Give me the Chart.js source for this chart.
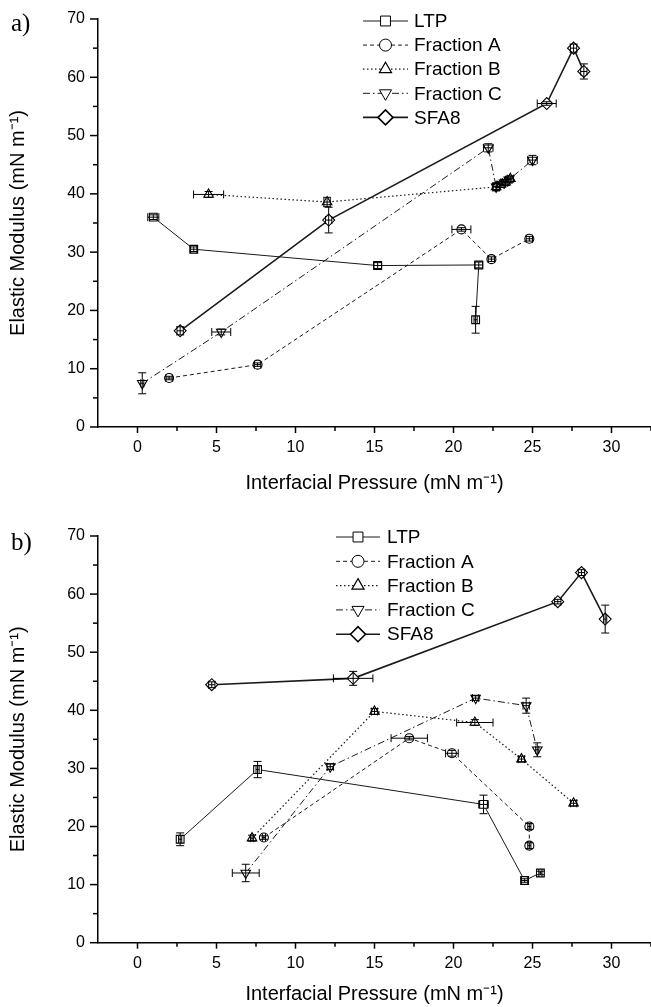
<!DOCTYPE html>
<html><head><meta charset="utf-8">
<script src="https://cdn.jsdelivr.net/npm/chart.js@4.4.1/dist/chart.umd.min.js"></script>
<style>
html,body{margin:0;padding:0;background:#fff;overflow:hidden;width:651px;height:1007px;}
#ca{position:absolute;left:0;top:0;}
#cb{position:absolute;left:0;top:500px;}
.lab{position:absolute;font-family:'Liberation Serif','Times New Roman',serif;font-size:25px;line-height:1;color:#000;}
</style></head><body>
<canvas id="ca" width="651" height="500"></canvas>
<canvas id="cb" width="651" height="515"></canvas>
<div class="lab" style="left:11px;top:10px">a)</div>
<div class="lab" style="left:11px;top:529px">b)</div>
<script>
// ---------- data ----------
const seriesNames = ['LTP', 'Fraction A', 'Fraction B', 'Fraction C', 'SFA8'];
const xTickLabels = [0, 5, 10, 15, 20, 25, 30];
const yTickLabels = [0, 10, 20, 30, 40, 50, 60, 70];

// panel a
const ltpA_x  = [1.0, 3.56, 15.2, 21.6, 21.4];
const ltpA_y  = [36.0, 30.5, 27.7, 27.8, 18.4];
const ltpA_xe = [0.35, 0.2, 0.25, 0.25, 0.1];
const ltpA_ye = [0.4, 0.4, 0.5, 0.5, 2.3];

const fracAA_x  = [2.0, 7.6, 20.5, 22.4, 24.8];
const fracAA_y  = [8.4, 10.7, 33.9, 28.8, 32.3];
const fracAA_xe = [0.2, 0.2, 0.6, 0.2, 0.2];
const fracAA_ye = [0.3, 0.3, 0.3, 0.4, 0.4];

const fracBA_x  = [4.5, 12.0, 22.7, 23.0, 23.3, 23.6];
const fracBA_y  = [39.9, 38.6, 41.2, 41.6, 42.0, 42.6];
const fracBA_xe = [0.95, 0.2, 0.2, 0.2, 0.2, 0.2];
const fracBA_ye = [0.5, 0.8, 0.6, 0.5, 0.5, 0.5];

const fracCA_x  = [0.3, 5.3, 22.2, 22.7, 23.2, 23.5, 25.0];
const fracCA_y  = [7.5, 16.3, 47.9, 41.2, 41.9, 42.4, 45.8];
const fracCA_xe = [0.1, 0.6, 0.3, 0.2, 0.2, 0.2, 0.3];
const fracCA_ye = [1.8, 0.5, 0.7, 0.7, 0.5, 0.5, 0.8];

const sfaA_x  = [2.7, 12.1, 25.9, 27.6, 28.25];
const sfaA_y  = [16.5, 35.5, 55.5, 65.0, 61.0];
const sfaA_xe = [0.2, 0.2, 0.6, 0.2, 0.2];
const sfaA_ye = [0.7, 2.2, 0.3, 0.7, 1.3];

// panel b
const ltpB_x  = [2.7, 7.6, 21.9, 24.5, 25.5];
const ltpB_y  = [17.8, 29.8, 23.8, 10.7, 12.0];
const ltpB_xe = [0.1, 0.1, 0.3, 0.2, 0.1];
const ltpB_ye = [1.1, 1.4, 1.6, 0.3, 0.3];

const fracAB_x  = [8.0, 17.2, 19.9, 24.8, 24.8];
const fracAB_y  = [18.1, 35.2, 32.6, 20.0, 16.7];
const fracAB_xe = [0.1, 1.15, 0.4, 0.1, 0.1];
const fracAB_ye = [0.3, 0.3, 0.5, 0.5, 0.5];

const fracBB_x  = [7.25, 15.0, 21.35, 24.3, 27.6];
const fracBB_y  = [18.0, 39.8, 37.9, 31.6, 24.0];
const fracBB_xe = [0.1, 0.2, 1.15, 0.2, 0.2];
const fracBB_ye = [0.5, 0.5, 0.5, 0.5, 0.5];

const fracCB_x  = [6.85, 12.2, 21.4, 24.6, 25.3];
const fracCB_y  = [12.0, 30.3, 42.1, 40.8, 33.2];
const fracCB_xe = [0.85, 0.2, 0.2, 0.2, 0.1];
const fracCB_ye = [1.5, 0.5, 0.4, 1.3, 1.2];

const sfaB_x  = [4.7, 13.65, 26.6, 28.1, 29.6];
const sfaB_y  = [44.4, 45.5, 58.7, 63.7, 55.7];
const sfaB_xe = [0.2, 1.25, 0.2, 0.2, 0.1];
const sfaB_ye = [0.5, 1.2, 0.4, 0.5, 2.4];

// ---------- styles ----------
const styles = [
  {pointStyle:'rect', rot:0, r:5.5, bw:1.0, dash:[]},
  {pointStyle:'circle', rot:0, r:4.5, bw:1.0, dash:[4,3]},
  {pointStyle:'triangle', rot:0, r:5.5, bw:1.2, dash:[1.5,2.5]},
  {pointStyle:'triangle', rot:180, r:5.5, bw:1.0, dash:[7,3,1.5,3]},
  {pointStyle:'rectRot', rot:0, r:6, bw:1.6, dash:[]}
];

function mk(xs, ys, xe, ye, i){
  const s = styles[i];
  return {
    label: seriesNames[i],
    data: xs.map((v, k) => ({x: v, y: ys[k]})),
    xErr: xe, yErr: ye,
    showLine: true,
    borderColor: '#1a1a1a', borderWidth: s.bw, borderDash: s.dash,
    pointStyle: s.pointStyle, pointRotation: s.rot, pointRadius: s.r,
    pointBackgroundColor: '#fff', pointBorderColor: '#000', pointBorderWidth: 1.1,
    pointHoverRadius: s.r
  };
}

Chart.defaults.font.family = "'Liberation Sans', Arial, Helvetica, sans-serif";
Chart.defaults.color = '#000';

function line(ctx, a, b, c, d){ ctx.beginPath(); ctx.moveTo(a, b); ctx.lineTo(c, d); ctx.stroke(); }

const errPlugin = {id:'errbars', afterDatasetsDraw(chart){
  const ctx = chart.ctx, xs = chart.scales.x, ys = chart.scales.y;
  ctx.save(); ctx.strokeStyle = '#000'; ctx.lineWidth = 1; ctx.setLineDash([]);
  chart.data.datasets.forEach(ds => {
    ds.data.forEach((p, i) => {
      const px = xs.getPixelForValue(p.x), py = ys.getPixelForValue(p.y);
      const ex = ds.xErr[i], ey = ds.yErr[i];
      if (ey) {
        const t = ys.getPixelForValue(p.y + ey), b = ys.getPixelForValue(p.y - ey);
        line(ctx, px, t, px, b); line(ctx, px - 4, t, px + 4, t); line(ctx, px - 4, b, px + 4, b);
      }
      if (ex) {
        const l = xs.getPixelForValue(p.x - ex), r = xs.getPixelForValue(p.x + ex);
        line(ctx, l, py, r, py); line(ctx, l, py - 4, l, py + 4); line(ctx, r, py - 4, r, py + 4);
      }
    });
  });
  ctx.restore();
}};

const tickPlugin = {id:'ticksmarks', afterDraw(chart){
  const ctx = chart.ctx, xs = chart.scales.x, ys = chart.scales.y, a = chart.chartArea;
  ctx.save(); ctx.strokeStyle = '#000'; ctx.lineWidth = 1.5; ctx.setLineDash([]);
  xs.ticks.forEach(t => {
    if (t.value <= xs.min) return;
    const px = xs.getPixelForValue(t.value);
    const major = xTickLabels.includes(t.value);
    line(ctx, px, a.bottom, px, a.bottom + (major ? 6 : 4));
  });
  ys.ticks.forEach(t => {
    const py = ys.getPixelForValue(t.value);
    const major = yTickLabels.includes(t.value);
    line(ctx, a.left, py, a.left - (major ? 8 : 5), py);
  });
  ctx.restore();
}};

const legendPlugin = {id:'lineLegend', afterDraw(chart, args, o){
  const ctx = chart.ctx;
  ctx.save();
  chart.data.datasets.forEach((ds, i) => {
    const y = o.y0 + i * o.dy;
    ctx.strokeStyle = '#1a1a1a'; ctx.lineWidth = ds.borderWidth; ctx.setLineDash(ds.borderDash);
    line(ctx, o.x1, y, o.x2, y);
    ctx.setLineDash([]);
    ctx.fillStyle = '#fff'; ctx.strokeStyle = '#000';
    Chart.helpers.drawPoint(ctx, {pointStyle: ds.pointStyle, rotation: ds.pointRotation, radius: ds.pointRadius + 1.5, borderWidth: 1.1}, (o.x1 + o.x2) / 2, y);
    ctx.fillStyle = '#000';
    ctx.font = "19px 'Liberation Sans', Arial, sans-serif";
    ctx.textBaseline = 'middle'; ctx.textAlign = 'left';
    ctx.fillText(ds.label, o.tx, y + 1);
  });
  ctx.restore();
}};

function makeChart(id, datasets, topPad, xH, legendOpts, titlePadB){
  return new Chart(document.getElementById(id), {
    type: 'scatter',
    data: {datasets},
    plugins: [errPlugin, tickPlugin, legendPlugin],
    options: {
      responsive: false, animation: false, devicePixelRatio: 1,
      layout: {autoPadding: false, padding: {top: topPad, left: 0, right: 0, bottom: 0}},
      plugins: {legend: {display: false}, tooltip: {enabled: false}, lineLegend: legendOpts},
      scales: {
        x: {
          type: 'linear', min: -2.5, max: 32.5,
          ticks: {stepSize: 2.5, autoSkip: false, maxRotation: 0, padding: 11, font: {size: 16}, color: '#000',
            callback: v => xTickLabels.includes(v) ? String(v) : ''},
          grid: {display: false, drawTicks: false},
          border: {display: true, color: '#000', width: 1.5},
          title: {display: true, text: 'Interfacial Pressure (mN m\u207B\u00B9)', font: {size: 20}, color: '#000', padding: {top: 0, bottom: titlePadB}},
          afterFit: s => { s.height = xH; s.paddingLeft = 0; s.paddingRight = 0; }
        },
        y: {
          type: 'linear', min: 0, max: 70,
          ticks: {stepSize: 5, autoSkip: false, padding: 13, font: {size: 16}, color: '#000',
            callback: v => yTickLabels.includes(v) ? String(v) : ''},
          grid: {display: false, drawTicks: false},
          border: {display: true, color: '#000', width: 1.5},
          title: {display: true, text: 'Elastic Modulus (mN m\u207B\u00B9)', font: {size: 20}, color: '#000', padding: {top: 6, bottom: 0}},
          afterFit: s => { s.width = 98; s.paddingTop = 0; s.paddingBottom = 0; }
        }
      }
    }
  });
}

makeChart('ca', [
  mk(ltpA_x, ltpA_y, ltpA_xe, ltpA_ye, 0),
  mk(fracAA_x, fracAA_y, fracAA_xe, fracAA_ye, 1),
  mk(fracBA_x, fracBA_y, fracBA_xe, fracBA_ye, 2),
  mk(fracCA_x, fracCA_y, fracCA_xe, fracCA_ye, 3),
  mk(sfaA_x, sfaA_y, sfaA_xe, sfaA_ye, 4)
], 19, 73, {x1: 363, x2: 408, tx: 414, y0: 21, dy: 24.1}, 5);

makeChart('cb', [
  mk(ltpB_x, ltpB_y, ltpB_xe, ltpB_ye, 0),
  mk(fracAB_x, fracAB_y, fracAB_xe, fracAB_ye, 1),
  mk(fracBB_x, fracBB_y, fracBB_xe, fracBB_ye, 2),
  mk(fracCB_x, fracCB_y, fracCB_xe, fracCB_ye, 3),
  mk(sfaB_x, sfaB_y, sfaB_xe, sfaB_ye, 4)
], 36, 72.3, {x1: 336, x2: 380, tx: 387, y0: 37, dy: 24.3}, 9);
</script>
</body></html>
